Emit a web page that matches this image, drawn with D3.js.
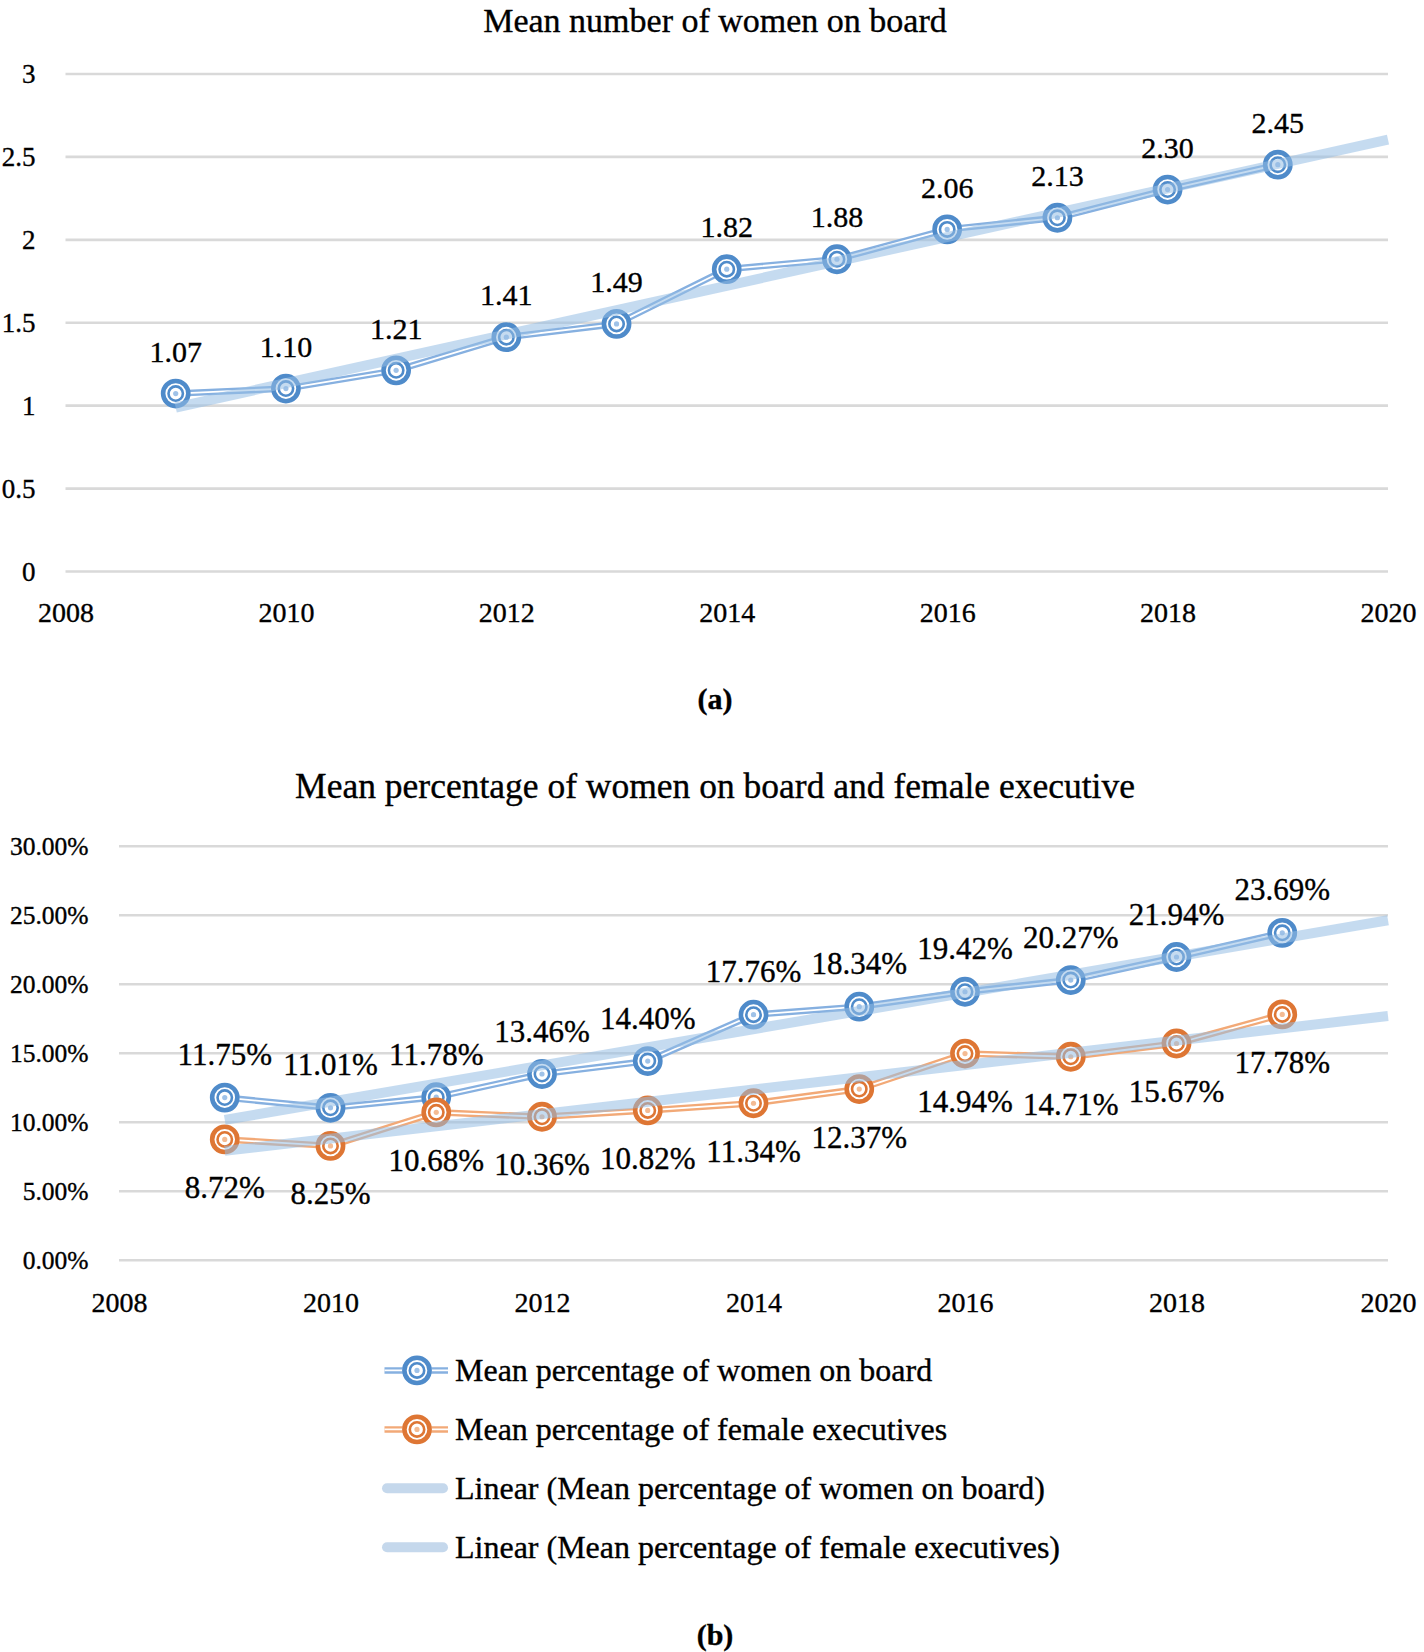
<!DOCTYPE html>
<html>
<head>
<meta charset="utf-8">
<script src="https://cdn.jsdelivr.net/npm/d3@7"></script>
<style>
  html, body { margin: 0; padding: 0; background: #fff; }
  svg { display: block; font-family: "Liberation Serif", "Times New Roman", serif; }
  svg text { stroke: #000; stroke-width: 0.35px; }
</style>
</head>
<body>
<svg id="chart" width="1424" height="1652"></svg>
<script>
// ---------- data ----------
const years = [2009, 2010, 2011, 2012, 2013, 2014, 2015, 2016, 2017, 2018, 2019];
const womenOnBoardCount = [1.07, 1.10, 1.21, 1.41, 1.49, 1.82, 1.88, 2.06, 2.13, 2.30, 2.45];
const pctWomenOnBoard = [11.75, 11.01, 11.78, 13.46, 14.40, 17.76, 18.34, 19.42, 20.27, 21.94, 23.69];
const pctFemaleExec = [8.72, 8.25, 10.68, 10.36, 10.82, 11.34, 12.37, 14.94, 14.71, 15.67, 17.78];
const xTicks = [2008, 2010, 2012, 2014, 2016, 2018, 2020];
const yTicksA = [0, 0.5, 1, 1.5, 2, 2.5, 3];
const yTicksB = [0, 5, 10, 15, 20, 25, 30];
const titleA = "Mean number of women on board";
const titleB = "Mean percentage of women on board and female executive";
const legendLabels = [
  "Mean percentage of women on board",
  "Mean percentage of female executives",
  "Linear (Mean percentage of women on board)",
  "Linear (Mean percentage of female executives)"
];

// ---------- styles ----------
const BLUE = "#4f8bca", BLUE_LINE = "#86b0e0", BLUE_DOT = "#9fc2e8";
const ORANGE = "#de7634", ORANGE_LINE = "#f2a977", ORANGE_DOT = "#f4bb93";
const TREND = "rgba(150,190,228,0.55)";
const GRID = "#d9d9d9";

const svg = d3.select("#chart");

function linearFit(xs, ys) {
  const n = xs.length;
  const mx = d3.mean(xs), my = d3.mean(ys);
  let sxy = 0, sxx = 0;
  for (let i = 0; i < n; i++) { sxy += (xs[i] - mx) * (ys[i] - my); sxx += (xs[i] - mx) ** 2; }
  const b = sxy / sxx;
  return x => my + b * (x - mx);
}

function drawMarker(g, cx, cy, color, dotColor) {
  g.append("circle").attr("cx", cx).attr("cy", cy).attr("r", 14.5).attr("fill", "#fff");
  g.append("circle").attr("cx", cx).attr("cy", cy).attr("r", 12.6)
    .attr("fill", "none").attr("stroke", color).attr("stroke-width", 4.6);
  g.append("circle").attr("cx", cx).attr("cy", cy).attr("r", 7.2)
    .attr("fill", "#fff").attr("stroke", color).attr("stroke-width", 2.6);
  g.append("circle").attr("cx", cx).attr("cy", cy).attr("r", 2.6).attr("fill", dotColor);
}

function drawDoubleLine(g, pts, lineColor) {
  const line = d3.line().x(d => d[0]).y(d => d[1]);
  g.append("path").attr("d", line(pts)).attr("fill", "none")
    .attr("stroke", lineColor).attr("stroke-width", 6.5).attr("stroke-linejoin", "round");
  g.append("path").attr("d", line(pts)).attr("fill", "none")
    .attr("stroke", "#fff").attr("stroke-width", 1.8).attr("stroke-linejoin", "round");
}

function drawPanel(cfg) {
  const x = d3.scaleLinear().domain([2008, 2020]).range([cfg.x0, cfg.x1]);
  const y = d3.scaleLinear().domain([0, cfg.yMax]).range([cfg.y0, cfg.y1]);
  const g = svg.append("g");

  // gridlines + y axis
  const yAxis = d3.axisLeft(y).tickValues(cfg.yTicks).tickSize(-(cfg.x1 - cfg.x0))
    .tickPadding(cfg.yPad).tickFormat(cfg.yFmt);
  const ya = g.append("g").attr("transform", `translate(${cfg.x0},0)`).call(yAxis);
  ya.select(".domain").remove();
  ya.selectAll(".tick line").attr("stroke", GRID).attr("stroke-width", 2.6);
  ya.selectAll(".tick text").attr("fill", "#000").attr("font-size", cfg.yFont)
    .attr("font-family", "Liberation Serif").attr("dy", "0.34em");

  // x axis
  const xAxis = d3.axisBottom(x).tickValues(xTicks).tickSize(0).tickPadding(cfg.xPad).tickFormat(d3.format("d"));
  const xa = g.append("g").attr("transform", `translate(0,${cfg.y0})`).call(xAxis);
  xa.select(".domain").remove();
  xa.selectAll(".tick text").attr("fill", "#000").attr("font-size", 28)
    .attr("font-family", "Liberation Serif");

  // title
  g.append("text").attr("x", 715).attr("y", cfg.titleY).attr("text-anchor", "middle")
    .attr("font-size", cfg.titleFont).attr("fill", "#000").text(cfg.title);
  // caption
  g.append("text").attr("x", 715).attr("y", cfg.capY).attr("text-anchor", "middle")
    .attr("font-size", 30).attr("font-weight", "bold").attr("fill", "#000").text(cfg.caption);

  // series lines
  cfg.series.forEach(s => {
    drawDoubleLine(g, years.map((yr, i) => [x(yr), y(s.values[i])]), s.line);
  });
  // markers
  cfg.series.forEach(s => {
    years.forEach((yr, i) => drawMarker(g, x(yr), y(s.values[i]), s.color, s.dot));
  });
  // trendlines (drawn on top, translucent)
  cfg.series.forEach(s => {
    const f = linearFit(years, s.values);
    g.append("line").attr("x1", x(2009)).attr("y1", y(f(2009)))
      .attr("x2", x(2020)).attr("y2", y(f(2020)))
      .attr("stroke", TREND).attr("stroke-width", 10);
  });
  // data labels
  cfg.series.forEach(s => {
    years.forEach((yr, i) => {
      g.append("text").attr("x", x(yr)).attr("y", y(s.values[i]) + s.labelOffset + 0.34 * cfg.labelFont)
        .attr("text-anchor", "middle").attr("font-size", cfg.labelFont).attr("fill", "#000")
        .text(s.fmt(s.values[i]));
    });
  });
  return g;
}

drawPanel({
  x0: 65.5, x1: 1388, y0: 571, y1: 73.5, yMax: 3, yTicks: yTicksA,
  yFmt: d => String(d), yPad: 30, yFont: 27, xPad: 31,
  title: titleA, titleY: 32, titleFont: 34, caption: "(a)", capY: 709, labelFont: 30,
  series: [{ values: womenOnBoardCount, color: BLUE, line: BLUE_LINE, dot: BLUE_DOT,
             labelOffset: -42, fmt: d3.format(".2f") }]
});

drawPanel({
  x0: 119, x1: 1388, y0: 1259.7, y1: 845.8, yMax: 30, yTicks: yTicksB,
  yFmt: d => d3.format(".2f")(d) + "%", yPad: 30.5, yFont: 25.5, xPad: 32,
  title: titleB, titleY: 798, titleFont: 35.5, caption: "(b)", capY: 1645, labelFont: 31,
  series: [
    { values: pctWomenOnBoard, color: BLUE, line: BLUE_LINE, dot: BLUE_DOT,
      labelOffset: -43, fmt: d => d3.format(".2f")(d) + "%" },
    { values: pctFemaleExec, color: ORANGE, line: ORANGE_LINE, dot: ORANGE_DOT,
      labelOffset: 48, fmt: d => d3.format(".2f")(d) + "%" }
  ]
});

// ---------- legend ----------
const legendY = [1370.4, 1429.4, 1488.3, 1547.3];
const lg = svg.append("g");
const legendSeries = [
  { type: "series", color: BLUE, line: BLUE_LINE, dot: BLUE_DOT },
  { type: "series", color: ORANGE, line: ORANGE_LINE, dot: ORANGE_DOT },
  { type: "trend" },
  { type: "trend" }
];
legendSeries.forEach((s, i) => {
  const cy = legendY[i];
  if (s.type === "series") {
    drawDoubleLine(lg, [[384.5, cy], [448, cy]], s.line);
    drawMarker(lg, 417, cy, s.color, s.dot);
  } else {
    lg.append("line").attr("x1", 387).attr("y1", cy).attr("x2", 443).attr("y2", cy)
      .attr("stroke", "#c5d8ec").attr("stroke-width", 10).attr("stroke-linecap", "round");
  }
  lg.append("text").attr("x", 455).attr("y", cy + 11).attr("font-size", 32).attr("fill", "#000")
    .text(legendLabels[i]);
});
</script>
</body>
</html>
